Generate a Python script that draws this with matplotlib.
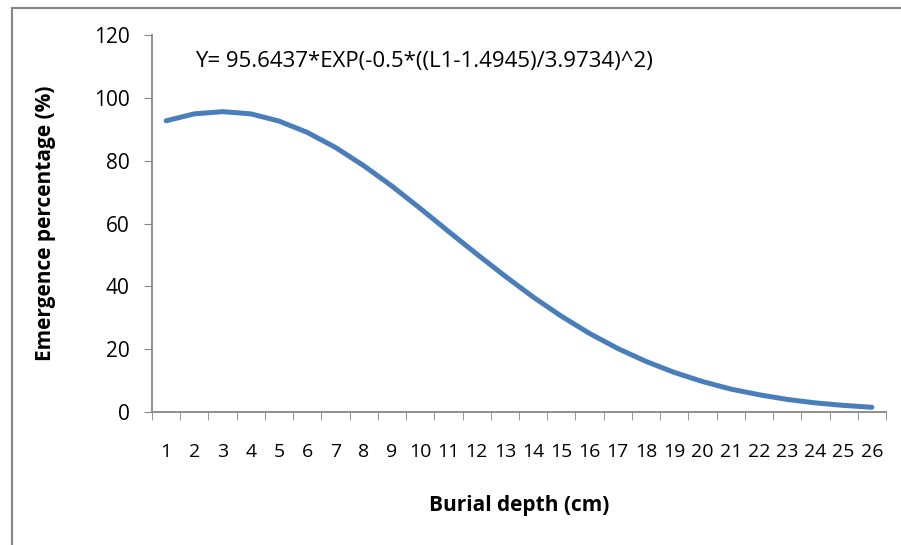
import matplotlib
matplotlib.use("Agg")
import matplotlib.pyplot as plt
from matplotlib.lines import Line2D

plt.rcParams['font.family'] = ['Open Sans', 'DejaVu Sans']

depth = list(range(1, 27))
emergence = [92.7, 94.9, 95.6, 94.9, 92.6, 89.0, 84.2, 78.4, 71.9, 64.8,
             57.5, 50.3, 43.3, 36.6, 30.5, 25.0, 20.2, 16.1, 12.6, 9.7,
             7.3, 5.5, 4.0, 2.9, 2.1, 1.5]
yticks = [0, 20, 40, 60, 80, 100, 120]
equation = "Y= 95.6437*EXP(-0.5*((L1-1.4945)/3.9734)^2)"

W, H = 901, 545
fig = plt.figure(figsize=(W / 100, H / 100), dpi=100)
ax = fig.add_axes([152 / W, 1 - 412 / H, (886 - 152) / W, (412 - 35) / H])

gray = "#868686"
ax.plot(depth, emergence, color="#4A7EBB", lw=3.6, solid_capstyle="round")

ax.set_xlim(0.5, 26.5)
ax.set_ylim(0, 120)
ax.set_yticks(yticks)
ax.set_xticks(depth)
ax.set_xticks([d + 0.5 for d in [0] + depth], minor=True)
ax.tick_params(axis="x", which="major", length=0, pad=22, labelsize=14)
ax.tick_params(axis="x", which="minor", length=6, color=gray, direction="out")
ax.tick_params(axis="y", length=6, color=gray, labelsize=15, pad=10)

for s in ["top", "right"]:
    ax.spines[s].set_visible(False)
for s in ["left", "bottom"]:
    ax.spines[s].set_color(gray)
    ax.spines[s].set_linewidth(1.3)

ax.set_xlabel("Burial depth (cm)", fontsize=15, fontweight="bold")
ax.xaxis.set_label_coords(0.5, -(505 - 412) / (412 - 35))
ax.xaxis.label.set_va("center")
ax.set_ylabel("Emergence percentage (%)", fontsize=15, fontweight="bold")
ax.yaxis.set_label_coords(-(152 - 45) / (886 - 152), 0.5)
ax.yaxis.label.set_va("center")

fig.text(195 / W, 1 - 62 / H, equation, fontsize=16, va="center")

# chart area border (only top and left visible)
fig.add_artist(Line2D([12 / W, 12 / W], [0, 1 - 7.5 / H], color=gray, lw=1.5))
fig.add_artist(Line2D([12 / W, 1], [1 - 7.5 / H, 1 - 7.5 / H], color=gray, lw=1.5))

fig.savefig("out.png", dpi=100)
